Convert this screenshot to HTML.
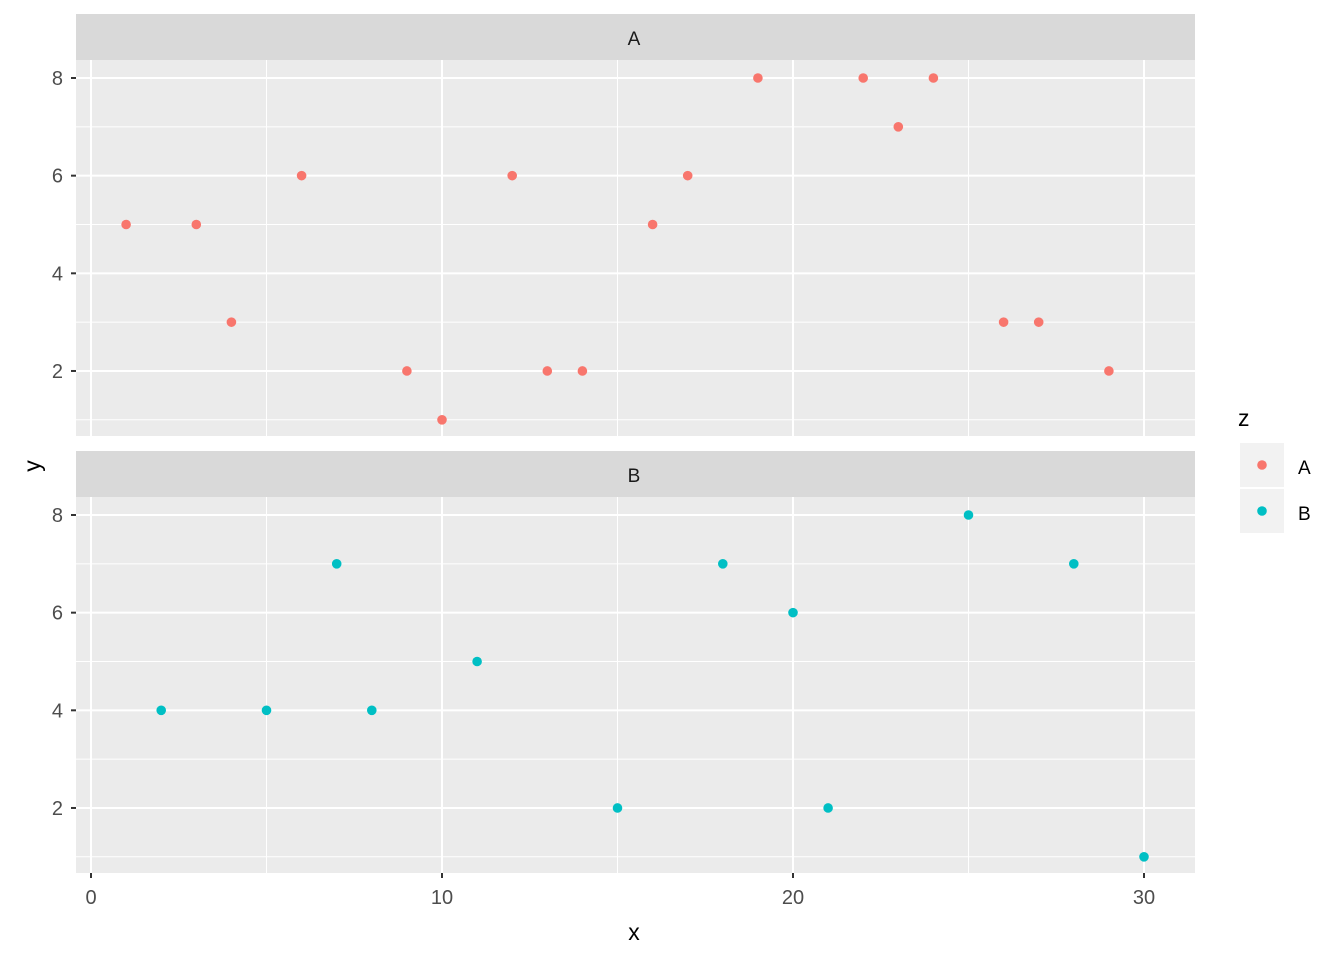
<!DOCTYPE html>
<html><head><meta charset="utf-8"><style>
body{margin:0;background:#fff;}
svg{display:block;font-family:"Liberation Sans",sans-serif;}
</style></head><body>
<svg id="chart" width="1344" height="960" xmlns="http://www.w3.org/2000/svg">
<g id="panels"></g>
<text x="634" y="940" font-size="23" text-anchor="middle" fill="#000">x</text>
<text x="0" y="0" font-size="23" text-anchor="middle" fill="#000" transform="translate(40,466) rotate(-90)">y</text>
<g>
<text x="1238" y="426" font-size="23" fill="#000">z</text>
<g>
<rect x="1240" y="443" width="44" height="44" fill="#f2f2f2"/>
<circle cx="1262" cy="465" r="4.8" fill="#F8766D"/>
<text x="1298" y="474" font-size="19" fill="#000">A</text></g>
<g>
<rect x="1240" y="489" width="44" height="44" fill="#f2f2f2"/>
<circle cx="1262" cy="511" r="4.8" fill="#00BFC4"/>
<text x="1298" y="520" font-size="19" fill="#000">B</text></g>
</g>
</svg>
<script>
const aX=[1,3,4,6,9,10,12,13,14,16,17,19,22,23,24,26,27,29];
const aY=[5,5,3,6,2,1,6,2,2,5,6,8,8,7,8,3,3,2];
const bX=[2,5,7,8,11,15,18,20,21,25,28,30];
const bY=[4,4,7,4,5,2,7,6,2,8,7,1];
const xTicks=[0,10,20,30];
const yTicks=[2,4,6,8];
const NS="http://www.w3.org/2000/svg";
const g=document.getElementById('panels');
function sx(v){return 91+v*35.1;}
function mk(t,a,p){const e=document.createElementNS(NS,t);for(const k in a)e.setAttribute(k,a[k]);(p||g).appendChild(e);return e;}
const panels=[{name:'A',top:60,xs:aX,ys:aY,col:'#F8766D'},{name:'B',top:497,xs:bX,ys:bY,col:'#00BFC4'}];
panels.forEach((P,pi)=>{
  const sy=v=>P.top+18+(8-v)*48.83;
  const grp=mk('g',{});
  
  
  const strip=mk('rect',{x:76,y:P.top-46,width:1119,height:46,fill:'#d9d9d9'},grp);
  
  
  const st=mk('text',{x:634,y:P.top-15,'font-size':19,'text-anchor':'middle',fill:'#1a1a1a'},grp);st.textContent=P.name;
  
  
  mk('rect',{x:76,y:P.top,width:1119,height:376,fill:'#ebebeb'},grp);
  [1,3,5,7].forEach(v=>mk('line',{x1:76,x2:1195,y1:sy(v),y2:sy(v),stroke:'#fff','stroke-width':1},grp));
  [5,15,25].forEach(v=>mk('line',{x1:sx(v),x2:sx(v),y1:P.top,y2:P.top+376,stroke:'#fff','stroke-width':1},grp));
  yTicks.forEach(v=>{mk('line',{x1:76,x2:1195,y1:sy(v),y2:sy(v),stroke:'#fff','stroke-width':2},grp);
    mk('line',{x1:71,x2:76,y1:sy(v),y2:sy(v),stroke:'#333','stroke-width':2},grp);
    const t=mk('text',{x:63,y:sy(v)+7,'font-size':20,'text-anchor':'end',fill:'#4d4d4d'},grp);t.textContent=v;
    
    });
  xTicks.forEach(v=>mk('line',{x1:sx(v),x2:sx(v),y1:P.top,y2:P.top+376,stroke:'#fff','stroke-width':2},grp));
  P.xs.forEach((x,i)=>{const c=mk('circle',{cx:sx(x),cy:sy(P.ys[i]),r:4.8,fill:P.col},grp);
    
    });
  if(pi===1){xTicks.forEach(v=>{mk('line',{x1:sx(v),x2:sx(v),y1:873,y2:878,stroke:'#333','stroke-width':2},grp);
    const t=mk('text',{x:sx(v),y:904,'font-size':20,'text-anchor':'middle',fill:'#4d4d4d'},grp);t.textContent=v;
    
    });}
});
</script>
</body></html>
